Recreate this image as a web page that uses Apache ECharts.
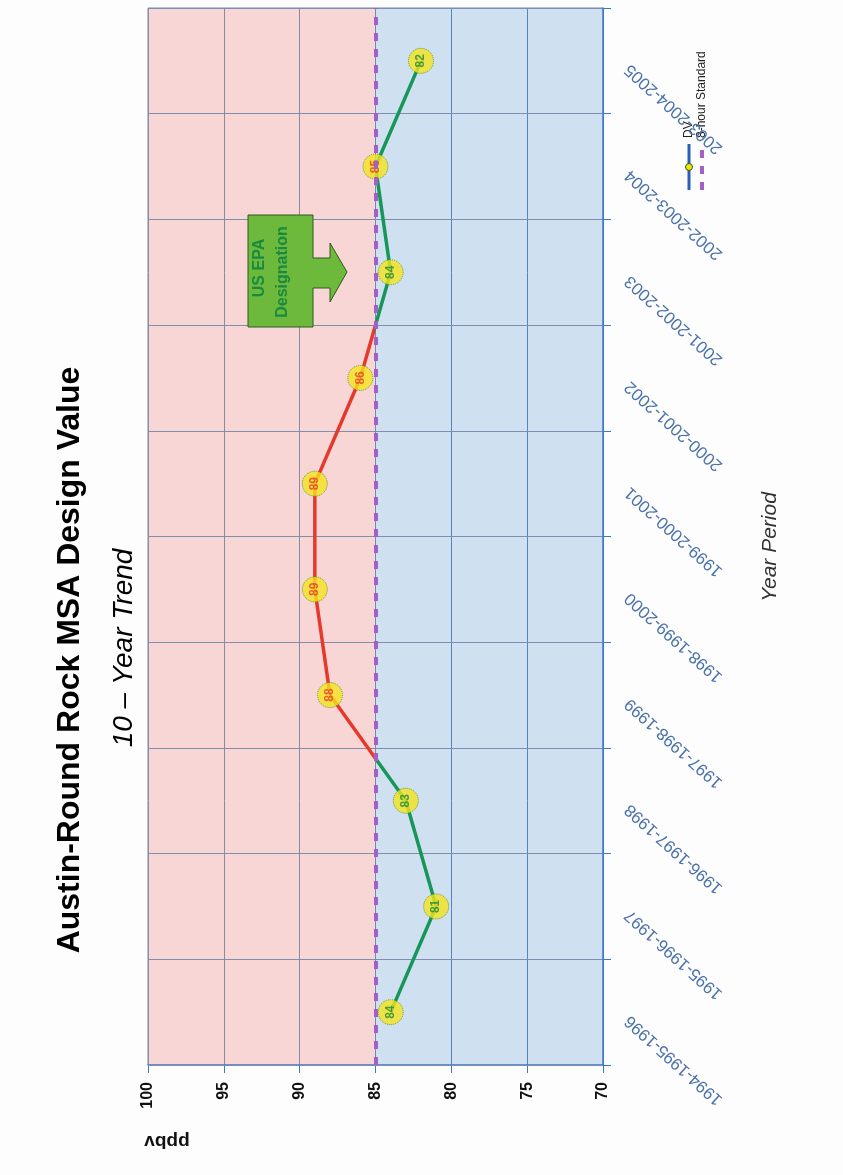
<!DOCTYPE html>
<html>
<head>
<meta charset="utf-8">
<title>Austin-Round Rock MSA Design Value</title>
<script src="https://cdn.jsdelivr.net/npm/echarts@6.0.0/dist/echarts.min.js"></script>
<style>
  html, body { margin: 0; padding: 0; background: #fdfdfe; }
  #main { width: 843px; height: 1175px; }
</style>
</head>
<body>
<div id="main"></div>
<script>
// chart data
const periods = [
    '1994-1995-1996', '1995-1996-1997', '1996-1997-1998', '1997-1998-1999', '1998-1999-2000',
    '1999-2000-2001', '2000-2001-2002', '2001-2002-2003', '2002-2003-2004', '2003-2004-2005'
];
const designValues = [84, 81, 83, 88, 89, 89, 86, 84, 85, 82];
const standardValue = 85;
const ppbMin = 70;
const ppbMax = 100;
const ppbStep = 5;
const seriesNames = ['DV', '8-hour Standard'];
const titleText = 'Austin-Round Rock MSA Design Value';
const subtitleText = '10 \u2013 Year Trend';
const calloutLines = ['US EPA', 'Designation'];

const FONT = '"Liberation Sans", Arial, sans-serif';
const RED = '#e6392b';
const GREEN = '#17965a';
const PURPLE = '#a35fc8';
const PINK = '#f8d6d6';
const BLUE = '#cfe0f1';

// red above the standard, green below; the axis is inverted so the high values are on the left
const hi = Math.max(...designValues);
const lo = Math.min(...designValues);
const cut = (hi - standardValue) / (hi - lo);
const lineColor = new echarts.graphic.LinearGradient(0, 0, 1, 0, [
    {offset: 0, color: RED},
    {offset: cut, color: RED},
    {offset: cut, color: GREEN},
    {offset: 1, color: GREEN}
]);

var myChart = echarts.init(document.getElementById('main'));

var option = {
    backgroundColor: '#fdfdfe',
    animation: false,
    textStyle: {fontFamily: FONT},
    grid: {
        left: 148, right: 240, top: 8, bottom: 110,
        show: true, borderColor: '#6f8dbd', borderWidth: 1
    },
    xAxis: {
        type: 'value',
        z: 0,
        min: ppbMin, max: ppbMax, interval: ppbStep,
        inverse: true,
        position: 'bottom',
        axisLine: {show: true, lineStyle: {color: '#3b78c6', width: 1.5}},
        axisTick: {show: true, length: 8, lineStyle: {color: '#3b78c6'}},
        axisLabel: {
            rotate: 90, margin: 17, fontSize: 16, fontWeight: 'bold', color: '#111',
            fontFamily: FONT
        },
        splitLine: {
            show: true,
            lineStyle: {color: ['#4f86c0', '#4f86c0', '#4f86c0', '#6f8cb8', '#8c8b9e', '#8c8b9e', '#8c8b9e'], width: 1}
        },
        splitArea: {
            show: true,
            areaStyle: {color: [BLUE, BLUE, BLUE, PINK, PINK, PINK], opacity: 1}
        }
    },
    yAxis: {
        type: 'category',
        z: 1,
        data: periods,
        position: 'right',
        boundaryGap: true,
        axisLine: {show: true, lineStyle: {color: '#3b78c6', width: 1.5}},
        axisTick: {show: true, length: 8, lineStyle: {color: '#3b78c6'}},
        axisLabel: {
            interval: 0, rotate: 138, align: 'right', verticalAlign: 'bottom',
            margin: 30, fontSize: 17, color: '#4a72aa', fontFamily: FONT
        },
        splitLine: {show: true, lineStyle: {color: '#7e8eae', width: 1}}
    },
    series: [
        {
            name: seriesNames[0],
            type: 'line',
            z: 3,
            symbol: 'none',
            lineStyle: {width: 3.5, color: lineColor},
            data: designValues.map((v, i) => [v, periods[i]])
        },
        {
            name: seriesNames[0] + ' points',
            type: 'scatter',
            z: 4,
            symbolSize: 25,
            itemStyle: {color: '#f4e31c', borderColor: '#3d8a3a', borderWidth: 1, borderType: 'dotted'},
            label: {
                show: true, position: 'inside', rotate: 90,
                fontSize: 12, fontWeight: 'bold', fontFamily: FONT
            },
            data: designValues.map((v, i) => ({
                value: [v, periods[i]],
                label: {color: v >= standardValue ? RED : '#1c8a3c'}
            }))
        },
        {
            name: seriesNames[1],
            type: 'line',
            z: 2,
            data: [],
            markLine: {
                silent: true,
                symbol: 'none',
                label: {show: false},
                lineStyle: {color: PURPLE, width: 4, type: [8, 8]},
                data: [{xAxis: standardValue}]
            }
        }
    ],
    graphic: [
        {
            type: 'text', x: 70, y: 660, rotation: Math.PI / 2,
            style: {
                text: titleText, font: 'bold 32px ' + FONT, fill: '#000',
                align: 'center', verticalAlign: 'middle', textAlign: 'center', textVerticalAlign: 'middle'
            }
        },
        {
            type: 'text', x: 124, y: 648, rotation: Math.PI / 2,
            style: {
                text: subtitleText, font: 'italic 28px ' + FONT, fill: '#000',
                align: 'center', verticalAlign: 'middle', textAlign: 'center', textVerticalAlign: 'middle'
            }
        },
        {
            type: 'text', x: 770, y: 547, rotation: Math.PI / 2,
            style: {
                text: 'Year Period', font: 'italic 21px ' + FONT, fill: '#333',
                align: 'center', verticalAlign: 'middle', textAlign: 'center', textVerticalAlign: 'middle'
            }
        },
        {
            type: 'text', x: 167, y: 1141, rotation: Math.PI,
            style: {
                text: 'ppbv', font: 'bold 19px ' + FONT, fill: '#111',
                align: 'center', verticalAlign: 'middle', textAlign: 'center', textVerticalAlign: 'middle'
            }
        },
        // US EPA designation callout
        {
            type: 'polygon',
            z: 10,
            shape: {
                points: [[248, 215], [313, 215], [313, 258], [330, 258], [330, 243], [347, 272],
                    [330, 302], [330, 288], [313, 288], [313, 327], [248, 327]]
            },
            style: {fill: '#6cb93c', stroke: '#2c5a1c', lineWidth: 1}
        },
        {
            type: 'text', z: 11, x: 260, y: 268, rotation: Math.PI / 2,
            style: {
                text: calloutLines[0], font: 'bold 16px ' + FONT, fill: '#1a8a40',
                align: 'center', verticalAlign: 'middle', textAlign: 'center', textVerticalAlign: 'middle'
            }
        },
        {
            type: 'text', z: 11, x: 283, y: 272, rotation: Math.PI / 2,
            style: {
                text: calloutLines[1], font: 'bold 16px ' + FONT, fill: '#1a8a40',
                align: 'center', verticalAlign: 'middle', textAlign: 'center', textVerticalAlign: 'middle'
            }
        },
        // legend
        {
            type: 'group', x: 689, y: 190, rotation: Math.PI / 2,
            children: [
                {type: 'line', shape: {x1: 0, y1: 0, x2: 46, y2: 0}, style: {stroke: '#2a5fb8', lineWidth: 3}},
                {type: 'circle', shape: {cx: 23, cy: 0, r: 3.5}, style: {fill: '#f2e600', stroke: '#2a5a2a', lineWidth: 1}},
                {
                    type: 'text', x: 52, y: 0,
                    style: {
                        text: seriesNames[0], font: '12px ' + FONT, fill: '#222',
                        align: 'left', verticalAlign: 'middle', textAlign: 'left', textVerticalAlign: 'middle'
                    }
                },
                {type: 'line', shape: {x1: 0, y1: 13, x2: 46, y2: 13}, style: {stroke: PURPLE, lineWidth: 4, lineDash: [8, 8]}},
                {
                    type: 'text', x: 52, y: 13,
                    style: {
                        text: seriesNames[1], font: '12px ' + FONT, fill: '#222',
                        align: 'left', verticalAlign: 'middle', textAlign: 'left', textVerticalAlign: 'middle'
                    }
                }
            ]
        }
    ]
};

myChart.setOption(option);
</script>
</body>
</html>
